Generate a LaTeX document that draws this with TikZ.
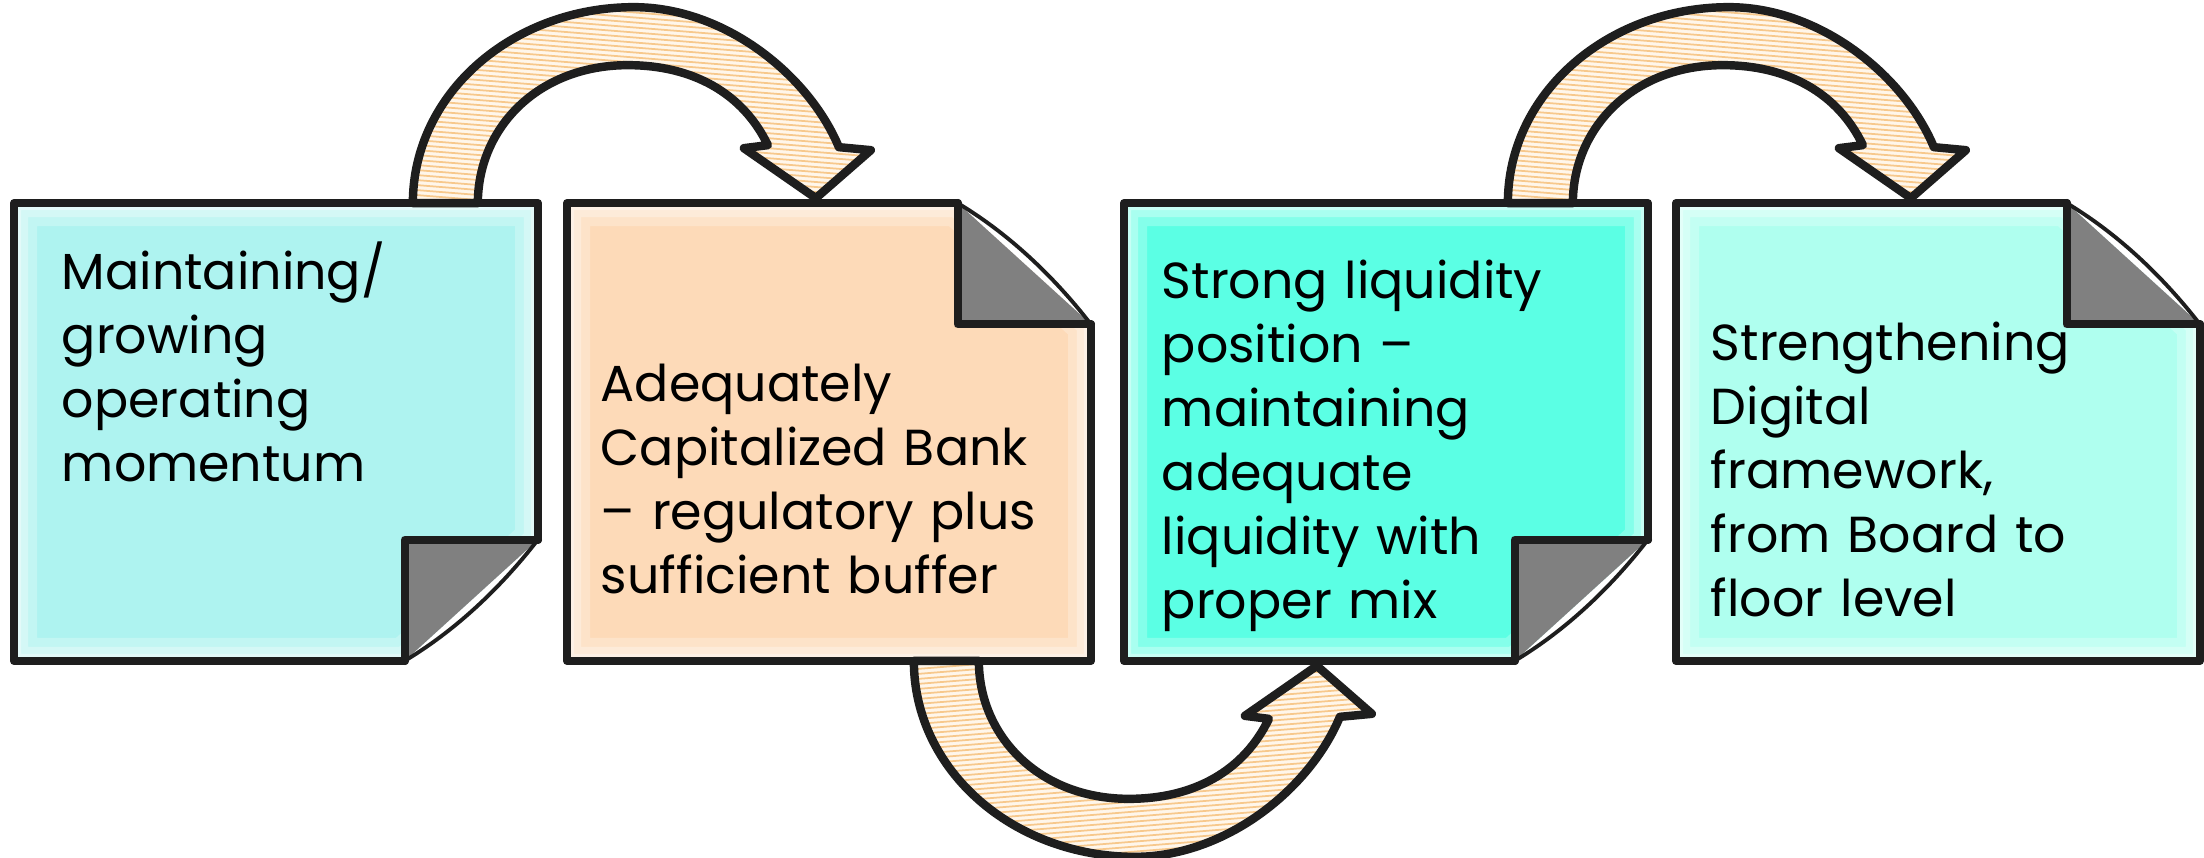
\documentclass[tikz,border=0pt]{standalone}
\usepackage{fontspec}
\setmainfont{Poppins}
\usepackage{tikz}
\usetikzlibrary{calc}
\definecolor{ink}{HTML}{1E1E1E}
\definecolor{softcyan}{HTML}{AEF3F0}
\definecolor{softpeach}{HTML}{FDDAB8}
\definecolor{aqua}{HTML}{5BFFE4}
\definecolor{softmint}{HTML}{AFFFEF}
\definecolor{foldgray}{HTML}{808080}
\definecolor{sand}{HTML}{FFF6EA}
\definecolor{sandline}{HTML}{F7C88C}

% card with the corner folded at the bottom right
\newcommand{\cardbr}[2]{%
  \path[fill=#2,glow] (#1.north west) -- (#1.north east) -- ([yshift=1.21cm]#1.south east) -- ([xshift=-1.33cm]#1.south east) -- (#1.south west) -- cycle;
  \fill[foldgray] ([xshift=-1.33cm,yshift=1.21cm]#1.south east) -- ([yshift=1.21cm]#1.south east) -- ([xshift=-1.33cm]#1.south east) -- cycle;
  \draw[edge] ([yshift=1.21cm]#1.south east) -- ([xshift=-1.33cm,yshift=1.21cm]#1.south east) -- ([xshift=-1.33cm]#1.south east);
  \draw[edge] ([yshift=1.21cm]#1.south east) -- (#1.north east) -- (#1.north west) -- (#1.south west) -- ([xshift=-1.33cm]#1.south east);
  \draw[crease] ([yshift=1.21cm]#1.south east) .. controls ([xshift=-0.38cm,yshift=0.72cm]#1.south east) and ([xshift=-0.83cm,yshift=0.30cm]#1.south east) .. ([xshift=-1.33cm]#1.south east);
}
% card with the corner folded at the top right
\newcommand{\cardtr}[2]{%
  \path[fill=#2,glow] (#1.north west) -- ([xshift=-1.33cm]#1.north east) -- ([yshift=-1.21cm]#1.north east) -- (#1.south east) -- (#1.south west) -- cycle;
  \fill[foldgray] ([xshift=-1.33cm]#1.north east) -- ([xshift=-1.33cm,yshift=-1.21cm]#1.north east) -- ([yshift=-1.21cm]#1.north east) -- cycle;
  \draw[edge] ([xshift=-1.33cm]#1.north east) -- ([xshift=-1.33cm,yshift=-1.21cm]#1.north east) -- ([yshift=-1.21cm]#1.north east);
  \draw[edge] ([xshift=-1.33cm]#1.north east) -- (#1.north west) -- (#1.south west) -- (#1.south east) -- ([yshift=-1.21cm]#1.north east);
  \draw[crease] ([xshift=-1.33cm]#1.north east) .. controls ([xshift=-0.83cm,yshift=-0.30cm]#1.north east) and ([xshift=-0.38cm,yshift=-0.72cm]#1.north east) .. ([yshift=-1.21cm]#1.north east);
}

\begin{document}
\begin{tikzpicture}[
  x=0.01cm,y=-0.01cm,
  card/.style={rectangle,minimum width=5.22cm,minimum height=4.56cm,inner sep=0pt},
  txt/.style={anchor=base west,align=left,inner sep=0pt,text width=4.9cm,font=\fontsize{14.4pt}{18.2pt}\selectfont},
  edge/.style={draw=ink,line width=2.4pt,line join=round,line cap=round},
  crease/.style={draw=ink,line width=1.1pt,line cap=round},
  glow/.style={draw=white,draw opacity=0.25,line width=13pt,
    postaction={draw=white,draw opacity=0.3,line width=8pt},
    postaction={draw=white,draw opacity=0.35,line width=4pt}},
  swoop/.pic={
    \begin{scope}
      \clip (0,0) .. controls (0,-110) and (100,-196) .. (221,-196) .. controls (312,-196) and (396,-128) .. (426,-56) -- (458,-53) -- (403,-5) -- (331,-55) -- (355,-58) .. controls (330,-110) and (280,-138) .. (215,-138) .. controls (125,-138) and (65,-75) .. (65,0) -- cycle;
      \fill[sand] (-20,-230) rectangle (480,20);
      \foreach \k in {-260,-255,...,20}
        \draw[sandline,line width=0.5pt] (-20,\k) -- (480,\k+40);
    \end{scope}
    \draw[edge] (0,0) .. controls (0,-110) and (100,-196) .. (221,-196) .. controls (312,-196) and (396,-128) .. (426,-56) -- (458,-53) -- (403,-5) -- (331,-55) -- (355,-58) .. controls (330,-110) and (280,-138) .. (215,-138) .. controls (125,-138) and (65,-75) .. (65,0) -- cycle;
  }
]
\useasboundingbox (0,0) rectangle (2204,858);
\node[card] (c1) at (276,432) {};
\node[card] (c2) at (829,432) {};
\node[card] (c3) at (1386,432) {};
\node[card] (c4) at (1938,432) {};
\cardbr{c1}{softcyan}
\cardtr{c2}{softpeach}
\cardbr{c3}{aqua}
\cardtr{c4}{softmint}
\pic at ($(c1.north east)+(-125,0)$) {swoop};
\pic[yscale=-1] at ($(c2.south east)+(-177,0)$) {swoop};
\pic at ($(c3.north east)+(-140,0)$) {swoop};
\node[txt] (t1) at ($(c1.north west)+(47,86)$) {Maintaining/\\growing\\operating\\momentum};
\node[txt] (t2) at ($(c2.north west)+(33,198)$) {Adequately\\Capitalized Bank\\– regulatory plus\\sufficient buffer};
\node[txt] (t3) at ($(c3.north west)+(37,95)$) {Strong liquidity\\position –\\maintaining\\adequate\\liquidity with\\proper mix};
\node[txt] (t4) at ($(c4.north west)+(34,157)$) {Strengthening\\Digital\\framework,\\from Board to\\floor level};
\end{tikzpicture}
\end{document}
